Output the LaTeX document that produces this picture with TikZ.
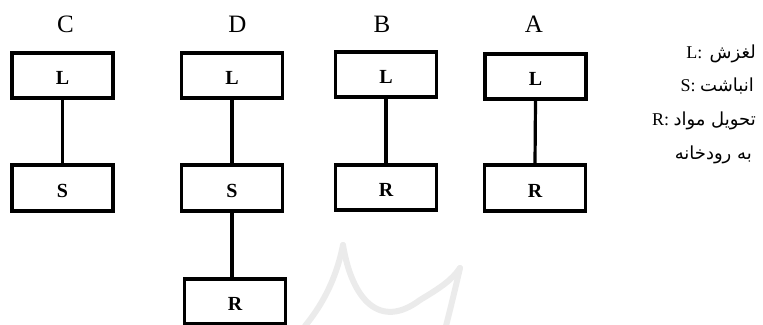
\documentclass[tikz,border=0pt]{standalone}
\usepackage{fontspec}
\setmainfont{Liberation Serif}
\newfontfamily\arabicfont[Script=Arabic]{DejaVu Sans}
\TeXXeTstate=1
\begin{document}
\begin{tikzpicture}[x=1pt,y=-1pt,
  box/.style={draw=black, line width=3.6pt, minimum width=101pt, minimum height=45.5pt,
    inner sep=0pt, font=\fontsize{20}{20}\selectfont\bfseries, text height=18pt, text depth=0pt},
  conn/.style={line width=3.2pt},
  col/.style={font=\fontsize{25}{25}\selectfont, anchor=base, inner sep=0pt},
  legfa/.style={font=\arabicfont\fontsize{18}{18}\selectfont, anchor=base east, inner sep=0pt},
  legla/.style={font=\fontsize{18}{18}\selectfont, anchor=base east, inner sep=0pt},
  wm/.style={draw=black!8, line width=6pt, line cap=round}]
\useasboundingbox (0,0) rectangle (763,324);
% faint watermark
\draw[wm] (343,245) .. controls (335,285) and (318,310) .. (305,326);
\draw[wm] (343,245) .. controls (352,300) and (380,330) .. (420,300) .. controls (440,288) and (452,280) .. (460,268);
\draw[wm] (460,268) .. controls (455,290) and (450,310) .. (446,326);
% column titles
\node[col] (tC) at (65.5,32) {C};
\node[col] (tD) at (237.5,32) {D};
\node[col] (tB) at (382,32) {B};
\node[col] (tA) at (534,32) {A};
% boxes
\node[box] (cL) at (62.5,75.5) {L};
\node[box] (cS) at (62.5,188) {S};
\node[box] (dL) at (232,75.5) {L};
\node[box] (dS) at (232,188) {S};
\node[box] (dR) at (235,301.5) {R};
\node[box] (bL) at (386,74.5) {L};
\node[box] (bR) at (386,187.5) {R};
\node[box] (aL) at (535.5,76.5) {L};
\node[box] (aR) at (535,188) {R};
% connectors
\draw[conn] (cL.south) -- (cS.north);
\draw[conn] (dL.south) -- (dS.north);
\draw[conn] (dS.south) -- (dS.south |- dR.north);
\draw[conn] (bL.south) -- (bR.north);
\draw[conn] (aL.south) -- (aR.north);
% legend
\node[legfa] (faL) at (756,58) {\beginR لغزش\endR};
\node[legla] (laL) at ([xshift=-7pt]faL.base west) {L:};
\node[legfa] (faS) at (754,91) {\beginR انباشت\endR};
\node[legla] (laS) at ([xshift=-4pt]faS.base west) {S:};
\node[legfa] (faR) at (756,125) {\beginR تحویل مواد\endR};
\node[legla] (laR) at ([xshift=-4pt]faR.base west) {R:};
\node[legfa] (faR2) at (752,159) {\beginR به رودخانه\endR};
\end{tikzpicture}
\end{document}
